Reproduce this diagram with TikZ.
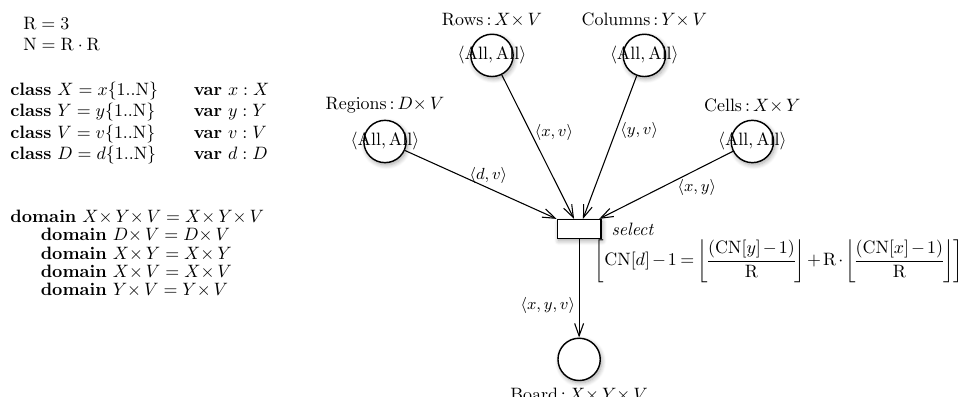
\documentclass[tikz,border=0pt]{standalone}
\usepackage{amsmath}
\usepackage{amssymb}
\usetikzlibrary{arrows.meta,positioning,shadows.blur}

\begin{document}
\begin{tikzpicture}[
  place/.style={circle, draw, thick, fill=white, minimum size=8.3mm, inner sep=0pt,
    blur shadow={shadow xshift=0.8pt, shadow yshift=-1.3pt, shadow blur radius=2.5pt, shadow blur steps=8, shadow opacity=35}},
  transition/.style={rectangle, draw, thick, fill=white, minimum width=8.6mm, minimum height=3.7mm, inner sep=0pt,
    blur shadow={shadow xshift=0.8pt, shadow yshift=-1.3pt, shadow blur radius=2.5pt, shadow blur steps=8, shadow opacity=35}},
  arc/.style={-{Straight Barb[length=7pt, width=5pt]}, semithick},
  inscr/.style={font=\small, inner sep=2pt},
  decl/.style={anchor=north west, align=left, inner sep=0pt}
]
\useasboundingbox (0,0) rectangle (18.9,-7.774);

% declarations
\node[decl] (consts) at (0.45,-0.33) {$\mathrm{R}=3$\\ $\mathrm{N}=\mathrm{R}\cdot\mathrm{R}$};

\node[decl] (classes) at (0.196,-1.57) {\begin{tabular}{@{}l@{\qquad}l@{}}
\textbf{class} $X=x\{1..\mathrm{N}\}$ & \textbf{var} $x:X$\\
\textbf{class} $Y=y\{1..\mathrm{N}\}$ & \textbf{var} $y:Y$\\
\textbf{class} $V=v\{1..\mathrm{N}\}$ & \textbf{var} $v:V$\\
\textbf{class} $D=d\{1..\mathrm{N}\}$ & \textbf{var} $d:D$
\end{tabular}};

\node[decl, font=\linespread{0.85}\selectfont] (domains) at (0.196,-4.12) {\textbf{domain} $X{\times}\,Y{\times}\,V=X{\times}\,Y{\times}\,V$\\
\hspace*{1.7em}\textbf{domain} $D{\times}\,V=D{\times}\,V$\\
\hspace*{1.7em}\textbf{domain} $X{\times}\,Y=X{\times}\,Y$\\
\hspace*{1.7em}\textbf{domain} $X{\times}\,V=X{\times}\,V$\\
\hspace*{1.7em}\textbf{domain} $Y{\times}\,V=Y{\times}\,V$};

% net
\node[transition, label={[label distance=2pt]right:\textit{select}}] (select) at (11.366,-4.495) {};

\node[place, above=1.09cm of select, xshift=-3.81cm,
  label=above:{$\mathrm{Regions}\,{:}\,D{\times}\,V$},
  label=center:{$\langle\mathrm{All},\mathrm{All}\rangle$}] (regions) {};
\node[place, above=2.78cm of select, xshift=-1.71cm,
  label=above:{$\mathrm{Rows}\,{:}\,X{\times}\,V$},
  label=center:{$\langle\mathrm{All},\mathrm{All}\rangle$}] (rows) {};
\node[place, above=2.78cm of select, xshift=1.28cm,
  label=above:{$\mathrm{Columns}\,{:}\,Y{\times}\,V$},
  label=center:{$\langle\mathrm{All},\mathrm{All}\rangle$}] (columns) {};
\node[place, above=1.09cm of select, xshift=3.40cm,
  label=above:{$\mathrm{Cells}\,{:}\,X{\times}\,Y$},
  label=center:{$\langle\mathrm{All},\mathrm{All}\rangle$}] (cells) {};

\node[place, below=1.93cm of select,
  label=below:{$\mathrm{Board}\,{:}\,X{\times}\,Y{\times}\,V$}] (board) {};

% guard
\node[anchor=north west, inner sep=0pt] (guard) at ([xshift=-4pt]select.south east)
  {\medmuskip=2mu \thickmuskip=3.5mu \nulldelimiterspace=0pt
   $\displaystyle\left[\mathrm{CN}[d]-1=\left\lfloor\frac{(\mathrm{CN}[y]-1)}{\mathrm{R}}\right\rfloor+\mathrm{R}\cdot\left\lfloor\frac{(\mathrm{CN}[x]-1)}{\mathrm{R}}\right\rfloor\right]$};

\draw[arc] (regions) -- node[inscr, above, pos=0.55] {$\langle d,v\rangle$} (select);
\draw[arc] (rows) -- node[inscr, right, pos=0.4] {$\langle x,v\rangle$} (select);
\draw[arc] (columns) -- node[inscr, right, pos=0.38] {$\langle y,v\rangle$} (select);
\draw[arc] (cells) -- node[inscr, below, pos=0.27, yshift=-3pt] {$\langle x,y\rangle$} (select);
\draw[arc] (select) -- node[inscr, left, pos=0.67] {$\langle x,y,v\rangle$} (board);

\end{tikzpicture}
\end{document}
